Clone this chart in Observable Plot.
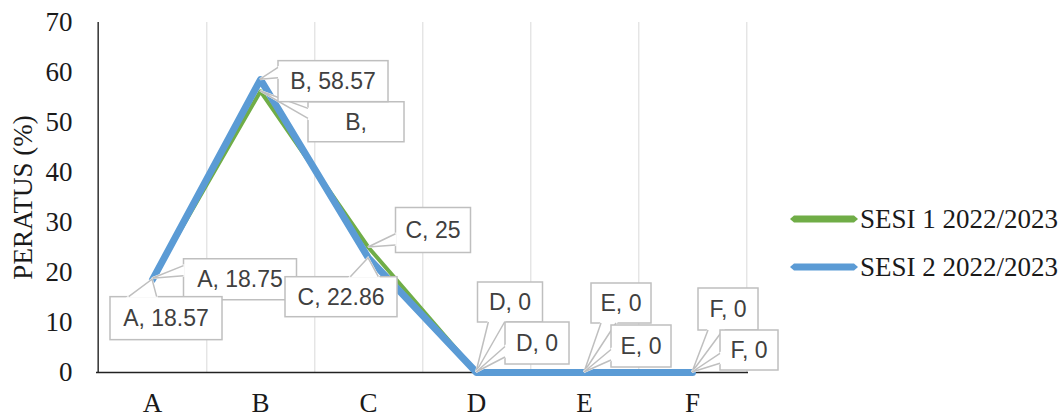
<!DOCTYPE html>
<html><head><meta charset="utf-8">
<script src="https://cdn.jsdelivr.net/npm/d3@7"></script>
<script src="https://cdn.jsdelivr.net/npm/@observablehq/plot@0.6"></script>
<style>
body{margin:0;background:#fff;}
#wrap{position:relative;width:1063px;height:417px;overflow:hidden;}
.legend{position:absolute;left:790px;top:0;font-family:"Liberation Serif","Times New Roman",serif;font-size:27px;color:#1a1a1a;}
.item{position:absolute;left:0;height:30px;display:flex;align-items:center;white-space:nowrap;}
.item svg{margin-right:2px;}
</style></head><body><div id="wrap"></div>
<script>
// ---- data ----
const categories = ["A", "B", "C", "D", "E", "F"];
const sesi1 = [18.75, 56.25, 25, 0, 0, 0];
const sesi2 = [18.57, 58.57, 22.86, 0, 0, 0];
const seriesNames = ["SESI 1 2022/2023", "SESI 2 2022/2023"];
const labels1 = ["A, 18.75", "B,", "C, 25", "D, 0", "E, 0", "F, 0"];
const labels2 = ["A, 18.57", "B, 58.57", "C, 22.86", "D, 0", "E, 0", "F, 0"];
const yTicks = [0, 10, 20, 30, 40, 50, 60, 70];
const yTitle = "PERATUS (%)";

// ---- layout / style ----
const colors = ["#70AD47", "#5B9BD5"];
const widths = [4, 7];
// callout box: center offset from point (px) and size
const layout1 = [
  {dx: 88, dy: 1, w: 113, h: 41},
  {dx: 96, dy: 31, w: 96, h: 40},
  {dx: 65, dy: -17, w: 75, h: 45},
  {dx: 34, dy: -70, w: 65, h: 40},
  {dx: 37, dy: -69, w: 60, h: 40},
  {dx: 36, dy: -63, w: 60, h: 42}
];
const layout2 = [
  {dx: 14, dy: 39, w: 112, h: 43},
  {dx: 73, dy: 2, w: 110, h: 41},
  {dx: -27, dy: 39, w: 112, h: 40},
  {dx: 61, dy: -29, w: 64, h: 42},
  {dx: 57, dy: -26, w: 60, h: 42},
  {dx: 57, dy: -22, w: 58, h: 40}
];

const W = 1063, H = 417, mL = 96, mR = 315, mT = 22, mB = 45;
const step = (W - mL - mR) / categories.length;
const serif = "'Liberation Serif', 'Times New Roman', serif";
const serifSize = 27;

const rows1 = categories.map((c, i) => ({cat: c, val: sesi1[i]}));
const rows2 = categories.map((c, i) => ({cat: c, val: sesi2[i]}));

const plot = Plot.plot({
  width: W, height: H,
  marginLeft: mL, marginRight: mR, marginTop: mT, marginBottom: mB,
  style: {background: "#fff", fontFamily: serif, fontSize: serifSize + "px", color: "#1a1a1a"},
  x: {type: "point", domain: categories, padding: 0.5, label: null},
  y: {domain: [0, 70], label: null},
  marks: [
    Plot.ruleX(categories, {x: d => d, dx: step / 2, stroke: "#d9d9d9", strokeWidth: 1}),
    Plot.ruleX([categories[0]], {x: d => d, dx: -step / 2, stroke: "#222", strokeWidth: 1.4}),
    Plot.ruleY([0], {stroke: "#222", strokeWidth: 1.4}),
    Plot.axisY(yTicks, {tickSize: 0, tickPadding: 24, fontSize: serifSize, fontFamily: serif, label: null}),
    Plot.axisX(categories, {tickSize: 0, tickPadding: 20, fontSize: serifSize, fontFamily: serif, label: null}),
    Plot.text([yTitle], {text: d => d, frameAnchor: "left", textAnchor: "middle", dx: -73, rotate: -90, fontSize: serifSize, fontFamily: serif, fill: "#1a1a1a"}),
    Plot.line(rows1, {x: "cat", y: "val", stroke: colors[0], strokeWidth: widths[0], strokeLinejoin: "round"}),
    Plot.line(rows2, {x: "cat", y: "val", stroke: colors[1], strokeWidth: widths[1], strokeLinejoin: "round"})
  ]
});

document.getElementById("wrap").appendChild(plot);

const svg = d3.select(plot);
// make sure axis / title text uses the serif face at the intended size
svg.selectAll("text")
  .style("font-family", serif)
  .style("font-size", serifSize + "px")
  .style("fill", "#1a1a1a");

// ---- callouts using the plot's scales ----
const sx = plot.scale("x"), sy = plot.scale("y");
const g = svg.append("g").attr("class", "callouts");

function wedgeBase(px, py, x0, y0, w, h) {
  const cx = x0 + w / 2, cy = y0 + h / 2;
  const rx = (px - cx) / w, ry = (py - cy) / h;
  if (Math.abs(rx) <= 0.5 && Math.abs(ry) <= 0.5) return null;
  if (Math.abs(rx) > Math.abs(ry)) {
    const ex = rx < 0 ? x0 : x0 + w;
    const [a, b] = ry < 0 ? [2 / 12, 5 / 12] : [7 / 12, 10 / 12];
    return [[ex, y0 + h * a], [ex, y0 + h * b]];
  } else {
    const ey = ry < 0 ? y0 : y0 + h;
    const [a, b] = rx < 0 ? [2 / 12, 5 / 12] : [7 / 12, 10 / 12];
    return [[x0 + w * a, ey], [x0 + w * b, ey]];
  }
}

function drawCallouts(values, texts, layout) {
  values.forEach((v, i) => {
    const px = sx.apply(categories[i]), py = sy.apply(v);
    const L = layout[i];
    const cx = px + L.dx, cy = py + L.dy;
    const x0 = cx - L.w / 2, y0 = cy - L.h / 2;
    const c = g.append("g");
    c.append("rect").attr("x", x0).attr("y", y0).attr("width", L.w).attr("height", L.h)
      .attr("fill", "#fff").attr("stroke", "#bfbfbf").attr("stroke-width", 1.5);
    const base = wedgeBase(px, py, x0, y0, L.w, L.h);
    if (base) {
      c.append("path").attr("d", `M${px},${py}L${base[0][0]},${base[0][1]}L${base[1][0]},${base[1][1]}Z`)
        .attr("fill", "#fff").attr("stroke", "#fff").attr("stroke-width", 2);
      c.append("path").attr("d", `M${base[0][0]},${base[0][1]}L${px},${py}L${base[1][0]},${base[1][1]}`)
        .attr("fill", "none").attr("stroke", "#bfbfbf").attr("stroke-width", 1.5);
    }
    c.append("text").attr("x", cx).attr("y", cy).attr("dy", "0.35em")
      .attr("text-anchor", "middle")
      .style("font-family", "'Liberation Sans', Arial, sans-serif").style("font-size", "23px")
      .style("fill", "#404040").text(texts[i]);
  });
}
drawCallouts(sesi1, labels1, layout1);
drawCallouts(sesi2, labels2, layout2);

// ---- legend ----
const leg = document.createElement("div");
leg.className = "legend";
const legTops = [204, 252];
seriesNames.forEach((name, k) => {
  const it = document.createElement("div");
  it.className = "item";
  it.style.top = legTops[k] + "px";
  it.innerHTML = `<svg width="68" height="8"><polygon points="0,4 4,0.5 64,0.5 68,4 64,7.5 4,7.5" fill="${colors[k]}"/></svg><span>${name}</span>`;
  leg.appendChild(it);
});
document.getElementById("wrap").appendChild(leg);
</script></body></html>
